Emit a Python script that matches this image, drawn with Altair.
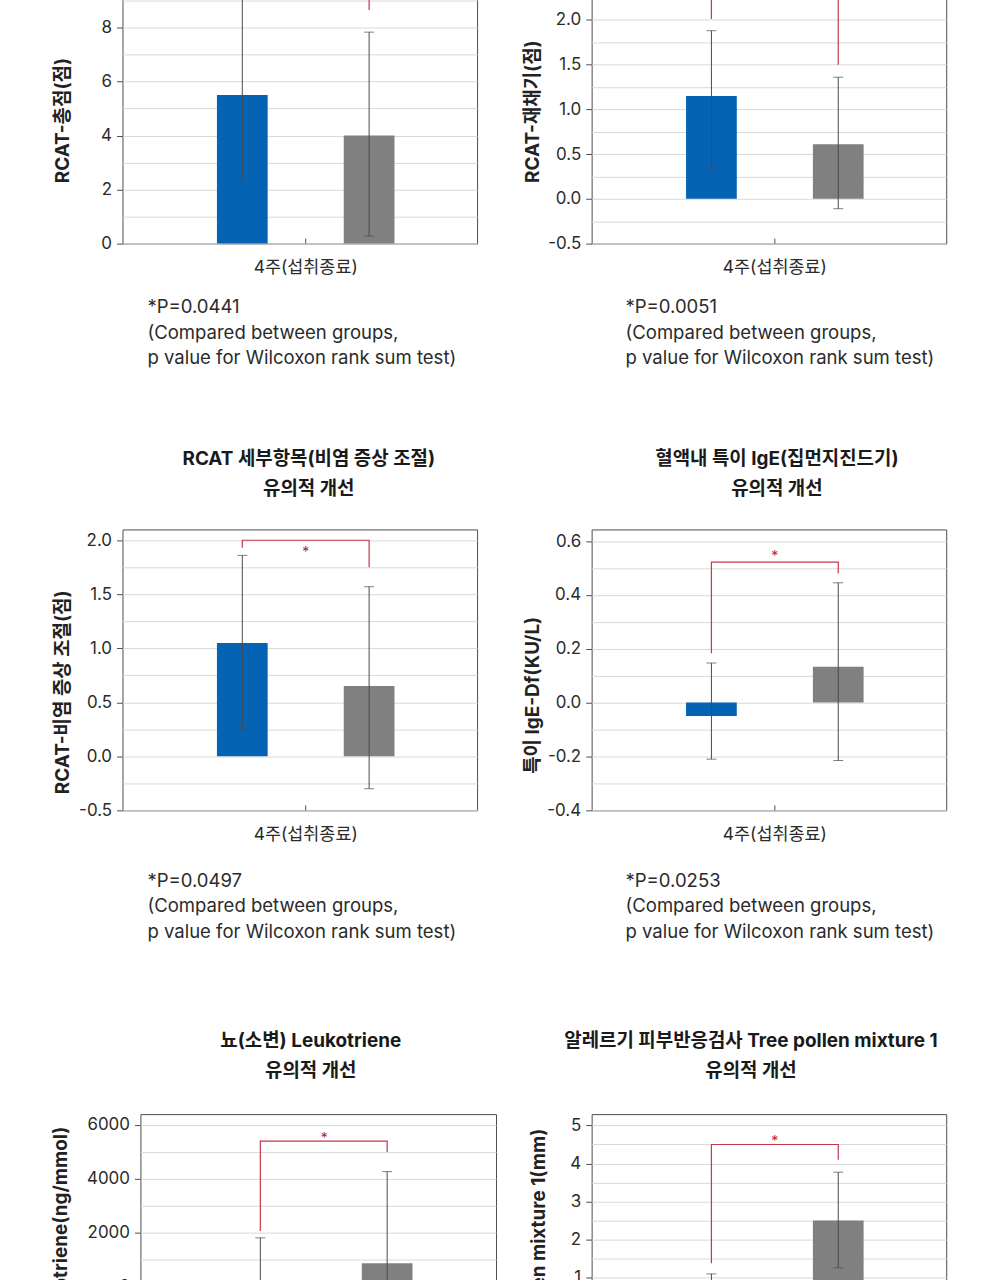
import altair as alt
import pandas as pd

FONT = "Inter, 'Noto Sans CJK KR', sans-serif"
BLUE = "#0563b4"
GRAY = "#808080"
ERR = "#4a4a4a"
RED = "#c8364a"
STAR = "#b02a3f"
FRAME = "#4d4d4d"
GRID = "#d9d9d9"
TEXT = "#2b2b2b"

period = "4주(섭취종료)"
groups = ["시험군", "대조군"]

panel_titles = [
    None,
    None,
    ["RCAT 세부항목(비염 증상 조절)", "유의적 개선"],
    ["혈액내 특이 IgE(집먼지진드기)", "유의적 개선"],
    ["뇨(소변) Leukotriene", "유의적 개선"],
    ["알레르기 피부반응검사 Tree pollen mixture 1", "유의적 개선"],
]
y_titles = [
    "RCAT-총점(점)",
    "RCAT-재채기(점)",
    "RCAT-비염 증상 조절(점)",
    "특이 IgE-Df(KU/L)",
    "Leukotriene(ng/mmol)",
    "Tree pollen mixture 1(mm)",
]

# group means and error-bar ends (시험군, 대조군)
means = [[5.5, 4.0], [1.15, 0.61], [1.05, 0.65], [-0.05, 0.133], [-650, 882], [0.3, 2.5]]
lows = [[2.3, 0.28], [0.36, -0.11], [0.26, -0.30], [-0.21, -0.215], [-3100, -2510], [-0.5, 1.25]]
highs = [[9.6, 7.83], [1.88, 1.36], [1.86, 1.57], [0.147, 0.445], [1818, 4272], [1.09, 3.77]]

# significance bracket: left leg end, bracket level, right leg end, star level
brackets = [
    [9.8, 10.15, 8.65, 10.25],
    [2.01, 2.45, 1.50, 2.53],
    [1.93, 2.0, 1.75, 1.92],
    [0.183, 0.522, 0.479, 0.555],
    [2070, 5400, 5000, 5610],
    [1.37, 4.5, 4.1, 4.66],
]
p_values = ["0.0441", "0.0051", "0.0497", "0.0253", None, None]

y_domains = [[0, 10.4], [-0.5, 2.64], [-0.5, 2.1], [-0.4, 0.643], [-4000, 6400], [-2.1, 5.3]]
y_ticks = [
    [0, 2, 4, 6, 8, 10],
    [-0.5, 0, 0.5, 1.0, 1.5, 2.0, 2.5],
    [-0.5, 0, 0.5, 1.0, 1.5, 2.0],
    [-0.4, -0.2, 0, 0.2, 0.4, 0.6],
    [-4000, -2000, 0, 2000, 4000, 6000],
    [-2, -1, 0, 1, 2, 3, 4, 5],
]
grid_spans = [[0, 10, 1], [-0.5, 2.5, 0.25], [-0.5, 2.0, 0.25], [-0.4, 0.6, 0.1],
              [-4000, 6000, 1000], [-2, 5, 0.5]]
label_formats = ["d", ".1f", ".1f", ".1f", "d", "d"]


def grid_values(a, b, s):
    n = int(round((b - a) / s))
    return [round(a + k * s, 6) for k in range(n + 1)]


H = 282

# per-panel layout: plot width, layout box (left, right, top, bottom),
# y-title (x, y, align), title (x, baseline y), note (x, baseline y)
layouts = [
    dict(w=356, box=(-121, 360, -2, 467), yt=(-60, 158, "center"), tt=None, nt=(25, 70)),
    dict(w=356, box=(-109, 409, -2, 467), yt=(-59, 149, "center"), tt=None, nt=(34, 70)),
    dict(w=356, box=(-121, 360, -100, 485), yt=(-60, 163, "center"), tt=(187, -65), nt=(25, 77)),
    dict(w=356, box=(-109, 409, -100, 485), yt=(-59, 166, "center"), tt=(186, -65), nt=(34, 77)),
    dict(w=357, box=(-139, 360, -100, 322), yt=(-80, 12, "right"), tt=(171, -67), nt=None),
    dict(w=356, box=(-91, 409, -100, 322), yt=(-53, 14, "right"), tt=(160, -67), nt=None),
]


def panel(i):
    lay = layouts[i]
    w = lay["w"]
    df = pd.DataFrame({
        "period": period,
        "group": groups,
        "mean": means[i],
        "lo": lows[i],
        "hi": highs[i],
    })
    ysc = alt.Scale(domain=y_domains[i], nice=False, zero=False)
    xsc = alt.Scale(type="band", paddingInner=0, paddingOuter=0.1, align=0.6)
    osc = alt.Scale(type="band", domain=groups, paddingInner=0.6, paddingOuter=0.465)
    x_axis = alt.Axis(title=None, labelAngle=0, ticks=False, domain=False, grid=False,
                      labelPadding=15, labelFontSize=17.5, labelColor=TEXT)
    X = alt.X("period:N", scale=xsc, axis=x_axis)
    XO = alt.XOffset("group:N", scale=osc)
    base = alt.Chart(df)

    ytx, yty, yta = lay["yt"]
    fmt = label_formats[i]
    bars = base.mark_bar().encode(
        x=X,
        xOffset=XO,
        y=alt.Y(
            "mean:Q",
            scale=ysc,
            axis=alt.Axis(
                orient="left", values=y_ticks[i], grid=False,
                labelExpr=f"replace(format(datum.value, '{fmt}'), '\u2212', '-')",
                domain=False, ticks=True, tickSize=6, tickColor=FRAME, labelPadding=5,
                labelFontSize=17, labelColor=TEXT,
                title=y_titles[i], titleAngle=270, titleX=ytx, titleY=yty,
                titleAlign=yta, titleBaseline="middle", titleFontSize=19,
                titleFontWeight="bold", titleColor="#222222",
            ),
        ),
        color=alt.Color("group:N", scale=alt.Scale(domain=groups, range=[BLUE, GRAY]), legend=None),
    )

    err = base.mark_rule(color=ERR, strokeWidth=1).encode(
        x=X,
        xOffset=XO,
        y=alt.Y(
            "lo:Q",
            scale=ysc,
            axis=alt.Axis(orient="right", grid=True, values=grid_values(*grid_spans[i]),
                          labels=False, ticks=False, domain=False, title=None,
                          gridColor=GRID, gridWidth=1),
        ),
        y2="hi:Q",
    )
    cap_hi = base.mark_tick(orient="horizontal", size=10, thickness=1, color=ERR).encode(
        x=X, xOffset=XO, y=alt.Y("hi:Q", scale=ysc, axis=None)
    )
    cap_lo = base.mark_tick(orient="horizontal", size=10, thickness=1, color=ERR).encode(
        x=X, xOffset=XO, y=alt.Y("lo:Q", scale=ysc, axis=None)
    )

    b = brackets[i]
    br_df = pd.DataFrame({
        "period": period,
        "group": [groups[0], groups[0], groups[1], groups[1]],
        "v": [b[0], b[1], b[1], b[2]],
        "seq": [0, 1, 2, 3],
    })
    bracket = alt.Chart(br_df).mark_line(color=RED, strokeWidth=1.2).encode(
        x=X, xOffset=XO, y=alt.Y("v:Q", scale=ysc, axis=None), order=alt.Order("seq:Q")
    )
    star = alt.Chart(pd.DataFrame({"period": [period], "v": [b[3]], "t": ["*"]})).mark_text(
        color=STAR, fontSize=14, dy=4, font=FONT
    ).encode(x=X, y=alt.Y("v:Q", scale=ysc, axis=None), text="t:N")

    xtick = alt.Chart(pd.DataFrame({"period": [period]})).mark_rule(color=FRAME).encode(
        x=X, y=alt.value(H), y2=alt.value(H - 5)
    )

    l, r, t, bt = lay["box"]
    box = alt.Chart(pd.DataFrame({"k": [0]})).mark_rect(opacity=0).encode(
        x=alt.value(l), x2=alt.value(r), y=alt.value(t), y2=alt.value(bt)
    )

    layers = [box, bars, err, cap_hi, cap_lo, bracket, star, xtick]

    if lay["nt"] is not None and p_values[i] is not None:
        nx, ny = lay["nt"]
        note = "*P=" + p_values[i] + "\n(Compared between groups,\np value for Wilcoxon rank sum test)"
        layers.append(
            alt.Chart(pd.DataFrame({"t": [note]})).mark_text(
                align="left", baseline="alphabetic", lineBreak="\n", lineHeight=25.5,
                fontSize=18.6, color=TEXT, font=FONT,
            ).encode(x=alt.value(nx), y=alt.value(H + ny), text="t:N")
        )

    if lay["tt"] is not None and panel_titles[i] is not None:
        tx, ty = lay["tt"]
        layers.append(
            alt.Chart(pd.DataFrame({"t": ["\n".join(panel_titles[i])]})).mark_text(
                align="center", baseline="alphabetic", lineBreak="\n", lineHeight=30,
                fontSize=19, fontWeight="bold", color="#1a1a1a", font=FONT,
            ).encode(x=alt.value(tx), y=alt.value(ty), text="t:N")
        )

    return alt.layer(*layers).resolve_axis(y="independent").properties(width=w, height=H)


def spacer():
    return alt.Chart(pd.DataFrame({"k": [0]})).mark_rect(opacity=0).encode(
        x=alt.value(0), x2=alt.value(1), y=alt.value(0), y2=alt.value(1)
    ).properties(width=1, height=1, view=alt.ViewBackground(stroke="transparent", strokeWidth=0))


cells = []
for row in range(3):
    cells.append(spacer())
    cells.append(panel(2 * row))
    cells.append(panel(2 * row + 1))

chart = alt.ConcatChart(
    concat=cells, columns=3, spacing=0, align="none", bounds="full"
).properties(
    padding={"top": -43, "left": 0, "right": 0, "bottom": -153},
    background="white",
).configure_view(
    stroke=FRAME, strokeWidth=1
).configure_axis(
    labelFont=FONT, titleFont=FONT
)

chart.save("out.html", embed_options={"renderer": "svg", "actions": False})
